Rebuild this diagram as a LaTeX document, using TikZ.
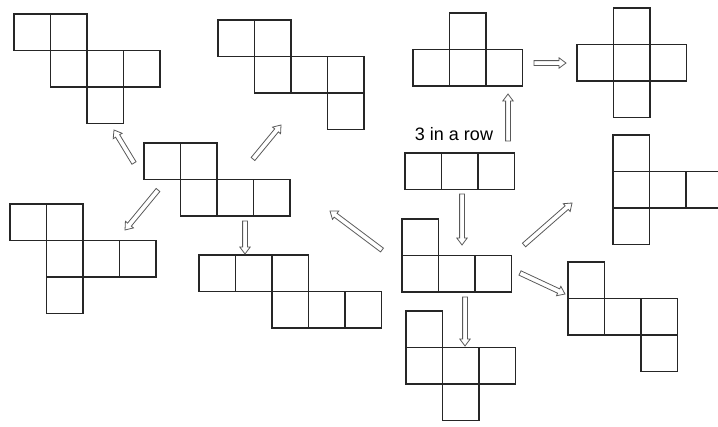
\documentclass[tikz,border=0pt]{standalone}
\usepackage{fontspec}
\setmainfont{Liberation Sans}
\usepackage{tikz}
\usetikzlibrary{arrows.meta, calc, positioning}

% size of one square of a net
\newcommand{\sqsize}{36.5}
% a net: name, left, top, list of column/row cells
\newcommand{\net}[5][cell]{%
  \foreach \c/\r in {#5}
    \node[#1, anchor=north west] (#2-\c-\r) at ({#3+\c*\sqsize},{#4+\r*\sqsize}) {};
}
% half widths of shaft and head, head length
\newcommand{\shaftw}{2.4pt}
\newcommand{\headw}{5.2pt}
\newcommand{\headl}{7pt}

\tikzset{
  cell/.style={draw=black!85, line width=1.6pt, minimum size=\sqsize pt, inner sep=0pt, outer sep=0pt},
  thincell/.style={cell, line width=1.1pt},
  hollow/.style={draw=black!65, line width=0.8pt, line join=miter, to path={
      ($(\tikztostart)!\shaftw!90:(\tikztotarget)$)
      -- ($($(\tikztotarget)!\headl!(\tikztostart)$)!\shaftw!90:(\tikztotarget)$)
      -- ($($(\tikztotarget)!\headl!(\tikztostart)$)!\headw!90:(\tikztotarget)$)
      -- (\tikztotarget)
      -- ($($(\tikztotarget)!\headl!(\tikztostart)$)!\headw!-90:(\tikztotarget)$)
      -- ($($(\tikztotarget)!\headl!(\tikztostart)$)!\shaftw!-90:(\tikztotarget)$)
      -- ($(\tikztostart)!\shaftw!-90:(\tikztotarget)$) -- cycle}}
}

\begin{document}
\begin{tikzpicture}[x=1pt, y=-1pt]
    \clip (0,0) rectangle (718,426);

    % Nets on the left
    \net{topleft}{14}{14}{0/0,1/0,1/1,2/1,3/1,2/2}
    \net{topmid}{218}{20}{0/0,1/0,1/1,2/1,3/1,3/2}
    \net{hub}{144}{143}{0/0,1/0,1/1,2/1,3/1}
    \net{lowleft}{10}{204}{0/0,1/0,1/1,2/1,3/1,1/2}
    \net{stair}{199}{255}{0/0,1/0,2/0,2/1,3/1,4/1}

    % Nets on the right
    \net[thincell]{tee}{413}{13}{1/0,0/1,1/1,2/1}
    \net[thincell]{cross}{577}{8}{1/0,0/1,1/1,2/1,1/2}
    \net[thincell]{row}{405}{153}{0/0,1/0,2/0}
    \net[thincell]{ell}{402}{219}{0/0,0/1,1/1,2/1}
    \net[thincell]{side}{613}{135}{0/0,0/1,1/1,2/1,0/2}
    \net[thincell]{zig}{568}{262}{0/0,0/1,1/1,2/1,2/2}
    \net[thincell]{plus}{406}{311}{0/0,0/1,1/1,2/1,1/2}

    % Label
    \node (rowlabel) at (454,134) {\fontsize{18}{18}\selectfont 3 in a row};

    % Arrow ends
    \coordinate (hubA) at (134,163);   \coordinate (topleftA) at (114,130);
    \coordinate (hubB) at (253,159);   \coordinate (topmidA) at (281,125);
    \coordinate (hubC) at (158,190);   \coordinate (lowleftA) at (125,230);
    \coordinate (hubD) at (245,221);   \coordinate (stairA) at (245,254);
    \coordinate (ellA) at (382,250);   \coordinate (hubE) at (330,211);
    \coordinate (rowA) at (508,141);   \coordinate (teeA) at (508,94);
    \coordinate (teeB) at (534,63);    \coordinate (crossA) at (566,63);
    \coordinate (rowB) at (462,194);   \coordinate (ellB) at (462,245);
    \coordinate (ellC) at (465,297);   \coordinate (plusA) at (465,346);
    \coordinate (ellD) at (520,273);   \coordinate (zigA) at (565,294);
    \coordinate (ellE) at (524,245);   \coordinate (sideA) at (572,203);

    % Arrows
    \draw[hollow] (hubA) to (topleftA);
    \draw[hollow] (hubB) to (topmidA);
    \draw[hollow] (hubC) to (lowleftA);
    \draw[hollow] (hubD) to (stairA);
    \draw[hollow] (ellA) to (hubE);
    \draw[hollow] (rowA) to (teeA);
    \draw[hollow] (teeB) to (crossA);
    \draw[hollow] (rowB) to (ellB);
    \draw[hollow] (ellC) to (plusA);
    \draw[hollow] (ellD) to (zigA);
    \draw[hollow] (ellE) to (sideA);
\end{tikzpicture}
\end{document}
